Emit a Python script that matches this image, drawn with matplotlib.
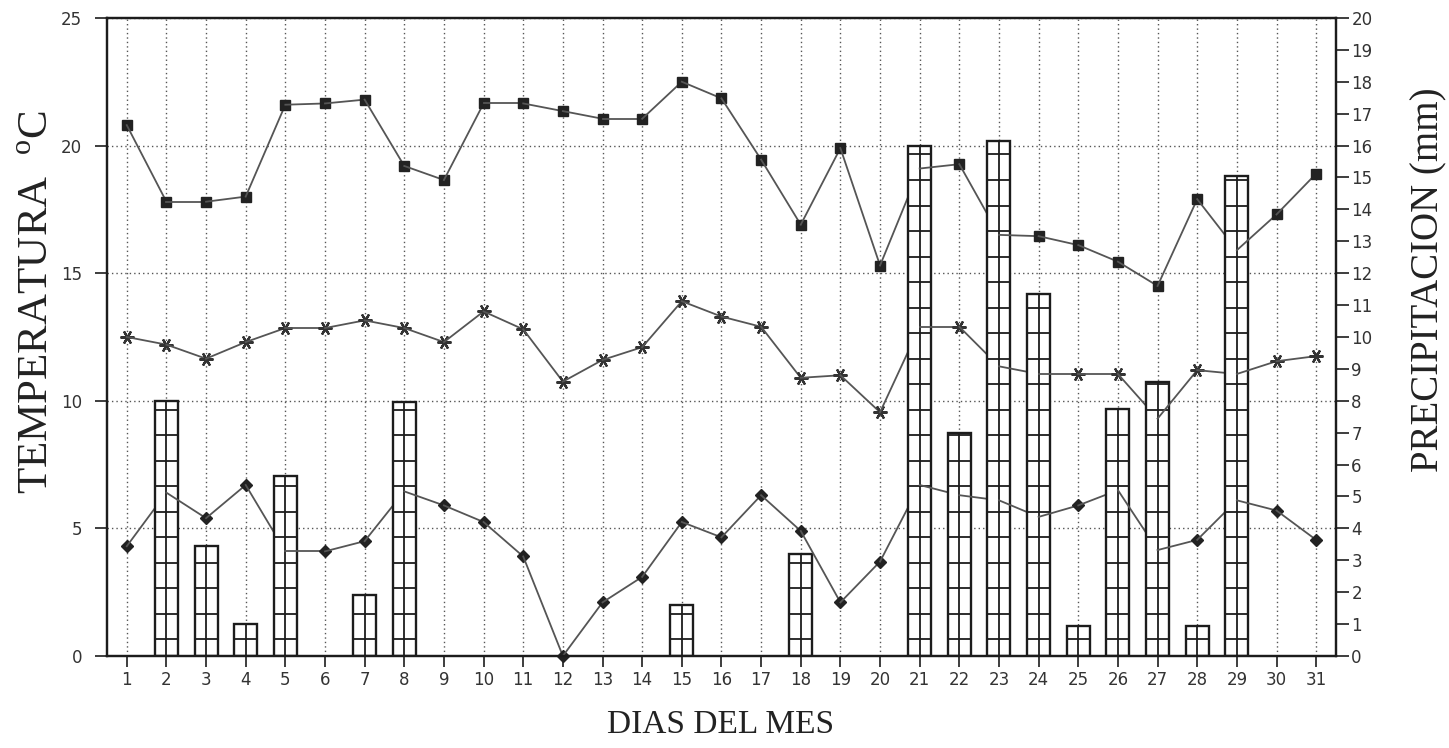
import numpy as np
import matplotlib
matplotlib.use("Agg")
import matplotlib.pyplot as plt

# datos diarios del mes
days = np.arange(1, 32)

# temperatura maxima (C)
t_max = [20.8, 17.8, 17.8, 18.0, 21.6, 21.65, 21.8, 19.2, 18.65, 21.65,
         21.65, 21.35, 21.05, 21.05, 22.5, 21.85, 19.45, 16.9, 19.9, 15.3,
         19.1, 19.27, 16.5, 16.45, 16.1, 15.45, 14.5, 17.9, 15.9, 17.3, 18.9]

# temperatura media (C)
t_med = [12.5, 12.2, 11.65, 12.3, 12.85, 12.85, 13.15, 12.85, 12.3, 13.5,
         12.8, 10.75, 11.6, 12.1, 13.9, 13.3, 12.9, 10.9, 11.0, 9.55,
         12.9, 12.9, 11.35, 11.05, 11.05, 11.05, 9.3, 11.2, 11.05, 11.55, 11.75]

# temperatura minima (C)
t_min = [4.3, 6.4, 5.4, 6.7, 4.1, 4.1, 4.5, 6.45, 5.9, 5.25,
         3.9, 0.0, 2.1, 3.1, 5.25, 4.65, 6.3, 4.9, 2.1, 3.7,
         6.7, 6.3, 6.1, 5.45, 5.9, 6.5, 4.15, 4.55, 6.1, 5.7, 4.55]

# precipitacion (mm)
precip = [0.0, 8.0, 3.45, 1.0, 5.65, 0.0, 1.9, 7.95, 0.0, 0.0,
          0.0, 0.0, 0.0, 0.0, 1.6, 0.0, 0.0, 3.2, 0.0, 0.0,
          16.0, 7.0, 16.15, 11.35, 0.95, 7.75, 8.6, 0.95, 15.05, 0.0, 0.0]

temp_ticks = [0, 5, 10, 15, 20, 25]
precip_ticks = list(range(0, 21))

T_TOP = 25.0
P_TOP = 20.0
mm_to_temp = T_TOP / P_TOP   # barras dibujadas en el eje de temperatura

plt.rcParams['font.family'] = ['DejaVu Sans']
plt.rcParams['mathtext.fontset'] = 'custom'
plt.rcParams['mathtext.rm'] = 'Liberation Serif'

ink = '#1c1c1c'
line_col = '#555555'
tick_col = '#333333'

fig = plt.figure(figsize=(14.49, 7.48), dpi=100)
ax = fig.add_axes([0.0738, 0.123, 0.8482, 0.853])
ax.set_xlim(0.5, 31.5)
ax.set_ylim(0, T_TOP)

bw = 0.58
n = len(days)
for k in range(n):
    d = days[k]
    base = 2 + 2 * k

    # marcadores del dia (quedan debajo de la barra del mismo dia)
    ax.plot(d, t_max[k], marker='s', ms=7.5, color='#222222', ls='none',
            zorder=base - 0.5, clip_on=False)
    ax.plot(d, t_med[k], marker=(6, 2, 30), ms=10, mew=1.6, color='#333333',
            ls='none', zorder=base - 0.5, clip_on=False)
    ax.plot(d, t_min[k], marker='D', ms=6.5, color='#222222', ls='none',
            zorder=base - 0.5, clip_on=False)

    # barra de precipitacion con su cuadricula interior
    h = precip[k] * mm_to_temp
    if h > 0:
        ax.bar(d, h, width=bw, color='white', edgecolor=ink, linewidth=1.7,
               zorder=base)
        levels = np.arange(0.65, h - 0.05, 1.0)
        ax.hlines(levels, d - bw / 2, d + bw / 2, colors=ink, lw=1.3,
                  zorder=base + 0.1)
        ax.vlines(d, 0, h, colors=ink, lw=1.3, zorder=base + 0.1)

    # tramo hacia el dia siguiente (encima de esta barra, debajo de la proxima)
    if k < n - 1:
        for serie in (t_max, t_med, t_min):
            ax.plot(days[k:k + 2], serie[k:k + 2], color=line_col, lw=1.3,
                    zorder=base + 1)

# ejes y cuadricula
ax.set_xticks(days)
ax.set_yticks(temp_ticks)
ax.set_axisbelow(True)
ax.grid(True, ls=(0, (1, 2.2)), color='#555555', lw=1.0)
ax.tick_params(axis='x', direction='out', length=8, width=1.2, pad=3,
               labelsize=12, colors=ink, labelcolor=tick_col)
ax.tick_params(axis='y', direction='out', length=9, width=1.2, pad=9,
               labelsize=12, colors=ink, labelcolor=tick_col)
for sp in ax.spines.values():
    sp.set_color(ink)
    sp.set_linewidth(1.6)
    sp.set_zorder(200)

ax2 = ax.twinx()
ax2.set_ylim(0, P_TOP)
ax2.set_yticks(precip_ticks)
ax2.tick_params(axis='y', direction='out', length=9, width=1.2, pad=2,
                labelsize=12, colors=ink, labelcolor=tick_col)
for sp in ax2.spines.values():
    sp.set_color(ink)
    sp.set_linewidth(1.6)

# textos
fig.text(0.026, 0.596, r'TEMPERATURA  $^{\mathrm{o}}$C', rotation=90,
         ha='center', va='center', family='Liberation Serif', fontsize=31,
         color='#222222')
fig.text(0.986, 0.626, 'PRECIPITACION (mm)', rotation=90,
         ha='center', va='center', family='Liberation Serif', fontsize=28,
         color='#222222')
fig.text(0.4976, 0.031, 'DIAS DEL MES', ha='center', va='center',
         family='Liberation Serif', fontsize=24, color='#222222')

fig.savefig('out.png', dpi=100, facecolor='white')
